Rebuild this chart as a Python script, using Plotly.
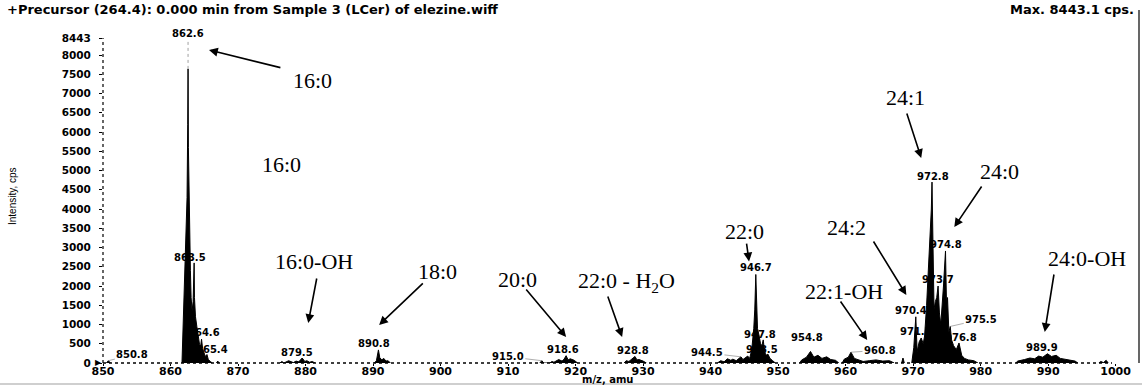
import plotly.graph_objects as go

# ---- spectrum profile, one cluster per pair of lists (m/z, intensity in cps) ----
mz_g850 = [850.5, 850.8, 851.1]
cps_g850 = [0, 60, 0]

mz_g862 = [861.7, 861.85, 862.0, 862.15, 862.3, 862.45, 862.55, 862.6, 862.65, 862.75, 862.85,
           862.95, 863.05, 863.2, 863.35, 863.45, 863.5, 863.55, 863.7, 863.9, 864.1, 864.3,
           864.45, 864.6, 864.75, 864.95, 865.15, 865.4, 865.6, 865.9, 866.2]
cps_g862 = [0, 900, 1600, 2300, 3200, 4300, 6200, 7640, 5600, 4200, 3300,
            2400, 1700, 1350, 1600, 2100, 2600, 1700, 1200, 950, 700, 480,
            420, 620, 380, 260, 170, 220, 90, 40, 0]

mz_g867 = [866.8, 867.0, 867.2]
cps_g867 = [0, 50, 0]

mz_g879 = [876.2, 876.5, 876.8, 877.5, 878.2, 878.6, 879.0, 879.5, 879.9, 880.2, 880.6, 881.0, 881.4]
cps_g879 = [0, 40, 0, 60, 10, 50, 30, 130, 40, 60, 20, 40, 0]

mz_g890 = [890.2, 890.5, 890.8, 891.0, 891.3, 891.6, 891.9, 892.2, 892.6]
cps_g890 = [0, 60, 340, 140, 80, 120, 50, 60, 0]

mz_g918 = [914.7, 915.0, 915.3, 916.2, 916.5, 916.8, 917.5, 918.0, 918.3, 918.6, 918.9, 919.2, 919.8, 920.3]
cps_g918 = [0, 60, 0, 0, 40, 20, 90, 50, 100, 190, 80, 110, 70, 0]

mz_g928 = [927.2, 927.5, 927.9, 928.3, 928.8, 929.1, 929.4, 930.0, 930.5]
cps_g928 = [0, 60, 40, 110, 170, 80, 90, 50, 0]

mz_g946 = [941.0, 941.5, 942.0, 942.5, 943.0, 943.3, 943.8, 944.2, 944.5, 944.8, 945.2, 945.5,
           945.8, 946.1, 946.4, 946.55, 946.7, 946.8, 946.95, 947.2, 947.4, 947.6, 947.8,
           948.0, 948.2, 948.5, 948.8, 949.2, 949.6]
cps_g946 = [0, 60, 30, 110, 70, 100, 60, 130, 160, 90, 150, 180,
            120, 350, 900, 1400, 2300, 1500, 900, 700, 500, 450, 600,
            300, 200, 230, 120, 60, 0]

mz_g955 = [953.2, 953.5, 954.2, 954.8, 955.3, 955.9, 956.5, 957.2, 957.8, 958.5, 959.0]
cps_g955 = [0, 80, 150, 300, 150, 200, 120, 160, 90, 70, 0]

mz_g960 = [959.5, 959.8, 960.4, 960.8, 961.3, 962.0, 962.6, 963.5, 964.5, 965.5, 966.5, 967.2]
cps_g960 = [0, 100, 150, 280, 120, 80, 40, 60, 80, 50, 60, 0]

mz_g968 = [968.3, 968.5, 968.7]
cps_g968 = [0, 130, 0]

mz_g972 = [969.8, 970.1, 970.4, 970.6, 970.9, 971.2, 971.5, 971.7, 972.0, 972.3, 972.5, 972.7,
           972.8, 972.95, 973.1, 973.3, 973.5, 973.7, 973.9, 974.1, 974.3, 974.5, 974.8,
           974.95, 975.1, 975.3, 975.5, 975.7, 976.0, 976.4, 976.8, 977.2, 977.6, 978.2, 979.0, 979.6]
cps_g972 = [0, 400, 1200, 300, 550, 650, 500, 700, 1500, 2500, 3400, 4000,
            4700, 2200, 1400, 1600, 1700, 2000, 1300, 1000, 1400, 2000, 2910,
            1500, 1700, 800, 950, 600, 450, 350, 520, 200, 120, 80, 60, 0]

mz_g990 = [985.2, 985.5, 986.5, 987.3, 988.0, 988.6, 989.2, 989.9, 990.5, 991.2, 991.8, 992.5,
           993.3, 994.0, 994.4]
cps_g990 = [0, 50, 90, 130, 110, 180, 150, 240, 170, 200, 120, 100, 70, 50, 0]

mz_g998 = [997.5, 997.8, 998.2, 998.6, 998.9]
cps_g998 = [0, 40, 10, 70, 0]

clusters = [
    (mz_g850, cps_g850), (mz_g862, cps_g862), (mz_g867, cps_g867), (mz_g879, cps_g879),
    (mz_g890, cps_g890), (mz_g918, cps_g918), (mz_g928, cps_g928), (mz_g946, cps_g946),
    (mz_g955, cps_g955), (mz_g960, cps_g960), (mz_g968, cps_g968), (mz_g972, cps_g972),
    (mz_g990, cps_g990), (mz_g998, cps_g998),
]

# ---- axis ticks ----
x_ticks = list(range(850, 1001, 10))
y_ticks = list(range(0, 8001, 500)) + [8443]
y_tick_text = [str(v) for v in y_ticks]

# ---- peak labels: m/z text, offset (px right, px up), drawn with a leader line ----
peak_labels = [
    ("850.8", 24, 6, True),
    ("862.6", 0, None, False),
    ("863.5", -4, 5, False),
    ("864.6", 2, 7, False),
    ("865.4", 5, 5, False),
    ("879.5", -5, 6, False),
    ("890.8", -4, 6, False),
    ("915.0", -34, 4, True),
    ("918.6", -3, 6, False),
    ("928.8", -2, 6, False),
    ("944.5", -34, 4, True),
    ("946.7", 0, 7, False),
    ("947.8", -3, 5, False),
    ("948.5", -6, 5, False),
    ("954.8", -3, 14, False),
    ("960.8", 29, 2, True),
    ("970.4", -5, 6, False),
    ("971.7", -9, 5, False),
    ("972.8", 1, 6, False),
    ("973.7", 0, 7, False),
    ("974.8", 0, 6, False),
    ("975.5", 31, 7, True),
    ("976.8", 2, 5, False),
    ("989.9", -5, 6, False),
]

# ---- chain assignments: text, text position (m/z, cps), arrow tail, arrow head ----
chain_labels = [
    ("16:0", (881.1, 7430), (876.5, 7664), (865.7, 8131)),
    ("16:0", (876.5, 5270), None, None),
    ("16:0-OH", (881.3, 2730), (881.7, 2234), (880.4, 1039)),
    ("18:0", (899.5, 2494), (897.6, 2104), (890.9, 987)),
    ("20:0", (911.4, 2286), (912.5, 1949), (918.6, 675)),
    ("22:0 - H<sub>2</sub>O", (927.5, 2208), (924.7, 1767), (926.9, 675)),
    ("22:0", (945.0, 3530), (945.3, 3140), (945.7, 2640)),
    ("22:1-OH", (959.8, 1949), (959.1, 1637), (963.2, 598)),
    ("24:2", (960.1, 3637), (964.0, 3196), (969.0, 1767)),
    ("24:1", (968.9, 6990), (969.0, 6520), (971.2, 5326)),
    ("24:0", (982.8, 5066), (980.3, 4624), (976.1, 3533)),
    ("24:0-OH", (995.8, 2806), (990.9, 2338), (989.5, 805)),
]

# plot frame in pixels
L, R, T, B = 103, 1119, 38, 363
W, H = 1142, 385
PW, PH = R - L, B - T


def px(xp):
    return (xp - L) / PW


def py(yp):
    return (B - yp) / PH


xs, ys = [], []
for mz, cps in clusters:
    xs += mz + [None]
    ys += cps + [None]

fig = go.Figure()
fig.add_trace(go.Scatter(
    x=xs, y=ys, mode="lines", connectgaps=False,
    line=dict(color="black", width=1), fill="tozeroy", fillcolor="black",
    hoverinfo="skip",
))

bold = dict(family="DejaVu Sans", color="black", weight="bold")
serif = dict(family="Liberation Serif", size=22, color="black")
label_font = dict(size=10, **bold)

annotations = []

# peak m/z labels
apex = {}
for mz, cps in clusters:
    for m, c in zip(mz, cps):
        apex[round(m, 2)] = c
for text, dx, dy, leader in peak_labels:
    m = float(text)
    c = apex[round(m, 2)]
    if text == "862.6":
        annotations.append(dict(x=m, y=py(34), xref="x", yref="paper", text=text,
                                xanchor="center", yanchor="middle",
                                showarrow=False, font=label_font))
        continue
    if leader:
        annotations.append(dict(x=m, y=c, xref="x", yref="y", text=text, showarrow=True,
                                arrowhead=0, arrowwidth=0.6, arrowcolor="#777",
                                xanchor="center", yanchor="middle",
                                ax=dx, ay=-dy, font=label_font))
    else:
        annotations.append(dict(x=m, y=c, xref="x", yref="y", text=text, showarrow=False,
                                xanchor="center", yanchor="middle",
                                xshift=dx, yshift=dy, font=label_font))

# chain names and their arrows
for text, pos, tail, head in chain_labels:
    annotations.append(dict(x=pos[0], y=pos[1], xref="x", yref="y", text=text,
                            xanchor="center", yanchor="middle", yshift=-4,
                            showarrow=False, font=serif))
    if tail is not None:
        annotations.append(dict(x=head[0], y=head[1], xref="x", yref="y",
                                ax=tail[0], ay=tail[1], axref="x", ayref="y",
                                text="", showarrow=True, arrowhead=2, arrowsize=1.1,
                                arrowwidth=1.6, arrowcolor="black"))

# header line
annotations.append(dict(x=px(5), y=py(9), xref="paper", yref="paper",
                        xanchor="left", yanchor="middle",
                        text="+Precursor (264.4): 0.000 min from Sample 3 (LCer) of elezine.wiff",
                        showarrow=False, font=dict(size=13, **bold)))
annotations.append(dict(x=px(1136), y=py(9), xref="paper", yref="paper",
                        xanchor="right", yanchor="middle",
                        text="Max. 8443.1 cps.", showarrow=False, font=dict(size=13, **bold)))

# axis titles
annotations.append(dict(x=px(12), y=py(196), xref="paper", yref="paper", text="Intensity, cps",
                        xanchor="center", yanchor="middle", textangle=-90, showarrow=False,
                        font=dict(family="Liberation Sans", size=10, color="black")))
annotations.append(dict(x=px(607), y=py(379), xref="paper", yref="paper", text="m/z, amu",
                        xanchor="center", yanchor="middle",
                        showarrow=False, font=dict(size=10, **bold)))
annotations.append(dict(x=px(98), y=py(361), xref="paper", yref="paper", text="▶",
                        xanchor="center", yanchor="middle",
                        showarrow=False, font=dict(size=8, color="black")))

shapes = [
    # dotted guide from the base peak up to its label
    dict(type="line", xref="x", yref="y", x0=862.6, x1=862.6, y0=7640, y1=8380,
         line=dict(color="#888", width=0.8, dash="dot")),
    # axis lines
    dict(type="line", xref="paper", yref="paper", x0=0, x1=0, y0=0, y1=1,
         line=dict(color="black", width=1.2, dash="dot")),
    dict(type="line", xref="paper", yref="paper", x0=0, x1=px(1112), y0=0, y1=0,
         line=dict(color="black", width=1.4, dash="dot")),
    # right frame edge
    dict(type="line", xref="paper", yref="paper", x0=px(1139), x1=px(1139), y0=py(363), y1=py(10),
         line=dict(color="black", width=1.2)),
    # bottom edge of the sheet
    dict(type="line", xref="paper", yref="paper", x0=px(0), x1=px(1142), y0=py(384), y1=py(384),
         line=dict(color="#cfcfcf", width=2)),
]

fig.update_layout(
    template="none",
    width=W, height=H,
    margin=dict(l=L, r=W - R, t=T, b=H - B, pad=0, autoexpand=False),
    paper_bgcolor="white", plot_bgcolor="white",
    showlegend=False,
    xaxis=dict(range=[850, 1000.5], tickvals=x_ticks, ticks="outside", ticklen=2,
               tickcolor="black", tickwidth=1, showgrid=False, zeroline=False, showline=False,
               automargin=False, tickfont=dict(size=11, **bold), ticklabelstandoff=-4),
    yaxis=dict(range=[0, 8443], tickvals=y_ticks, ticktext=y_tick_text, ticks="outside",
               ticklen=3, tickcolor="black", tickwidth=1, showgrid=False, zeroline=False,
               showline=False, automargin=False, tickfont=dict(size=10.5, **bold),
               ticklabelstandoff=6),
    annotations=annotations,
    shapes=shapes,
)

fig.write_html("out.html")
